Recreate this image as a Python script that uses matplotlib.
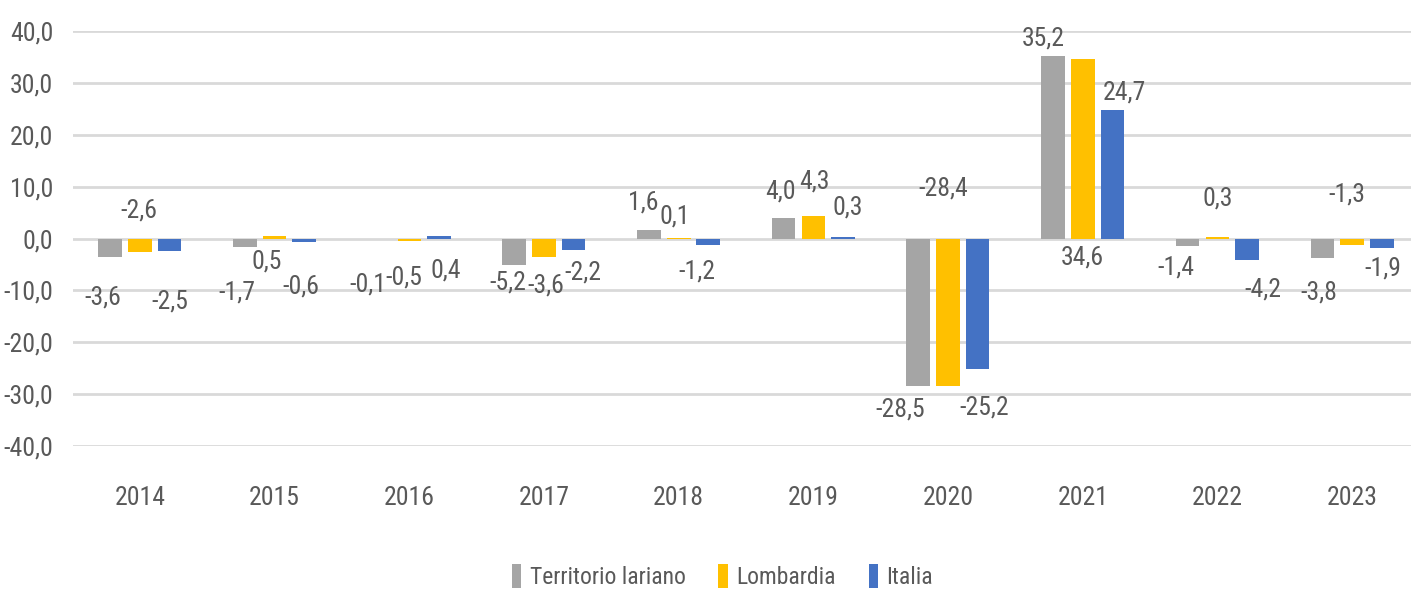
import matplotlib
matplotlib.use("Agg")
import matplotlib.pyplot as plt
from matplotlib import font_manager
from matplotlib.patches import Patch
import numpy as np

# ---- data ----
years = ["2014", "2015", "2016", "2017", "2018", "2019", "2020", "2021", "2022", "2023"]
series_names = ["Territorio lariano", "Lombardia", "Italia"]
territorio = [-3.6, -1.7, -0.1, -5.2, 1.6, 4.0, -28.5, 35.2, -1.4, -3.8]
lombardia = [-2.6, 0.5, -0.5, -3.6, 0.1, 4.3, -28.4, 34.6, 0.3, -1.3]
italia = [-2.5, -0.6, 0.4, -2.2, -1.2, 0.3, -25.2, 24.7, -4.2, -1.9]
y_ticks = [-40, -30, -20, -10, 0, 10, 20, 30, 40]

# ---- label placement (style) : y in data units, x offset in pixels ----
label_y = [
    [-11.3, -10.5, -8.8, -8.4, 7.0, 9.0, -33.0, 38.6, -5.5, -10.5],
    [5.4, -4.5, -7.6, -9.0, 4.2, 10.9, 9.7, -3.6, 7.8, 8.4],
    [-12.2, -9.2, -6.1, -6.6, -6.4, 5.9, -32.5, 28.2, -9.9, -5.7],
]
label_dx = [
    [-7, -8, -12, -6, -6, -3, -18, -10, -12, -4],
    [-1, -8, -6, 2, -4, 1, -5, -1, 0, -5],
    [0, -3, 7, 9, -11, 5, 7, 12, 16, 1],
]

colors = ["#A5A5A5", "#FFC000", "#4472C4"]
text_color = "#595959"

avail = {f.name for f in font_manager.fontManager.ttflist}
family = "DejaVu Sans"
for cand in ["Roboto Condensed", "Liberation Sans Narrow", "DejaVu Sans Condensed", "Open Sans Condensed"]:
    if cand in avail:
        family = cand
        break
plt.rcParams["font.family"] = [family, "DejaVu Sans"]
FS = 18.5

W, H = 1411, 591
fig = plt.figure(figsize=(W / 100, H / 100), dpi=100)
ax = fig.add_axes([72.6 / W, 1 - 446 / H, 1347 / W, 415 / H])

x = np.arange(len(years))
width = 0.175
offsets = [-0.222, 0.0, 0.219]
all_series = [territorio, lombardia, italia]
for s, vals in enumerate(all_series):
    ax.bar(x + offsets[s], vals, width=width, color=colors[s], zorder=3, label=series_names[s])
    for i, v in enumerate(vals):
        ax.annotate(f"{v:.1f}".replace(".", ","), xy=(x[i] + offsets[s], label_y[s][i]),
                    xytext=(label_dx[s][i] * 0.72, 0), textcoords="offset points",
                    ha="center", va="center", fontsize=FS, color=text_color, zorder=4)

ax.set_xlim(-0.5, len(years) - 0.5)
ax.set_ylim(-40, 40)
ax.set_yticks(y_ticks)
ax.set_yticklabels([f"{t:.1f}".replace(".", ",") for t in y_ticks])
ax.set_xticks(x)
ax.set_xticklabels(years)
ax.tick_params(axis="both", length=0, labelsize=FS, colors=text_color)
ax.tick_params(axis="y", pad=14)
ax.tick_params(axis="x", pad=29)
ax.grid(axis="y", color="#D9D9D9", linewidth=2, zorder=0)
for sp in ax.spines.values():
    sp.set_visible(False)

handles = [Patch(facecolor=c) for c in colors]
fig.legend(handles, series_names, loc="center", bbox_to_anchor=(0.512, 0.024), ncol=3,
           frameon=False, fontsize=17, labelcolor=text_color, handlelength=0.4,
           handleheight=1.2, handletextpad=0.35, columnspacing=1.4)

fig.savefig("out.png", dpi=100)
